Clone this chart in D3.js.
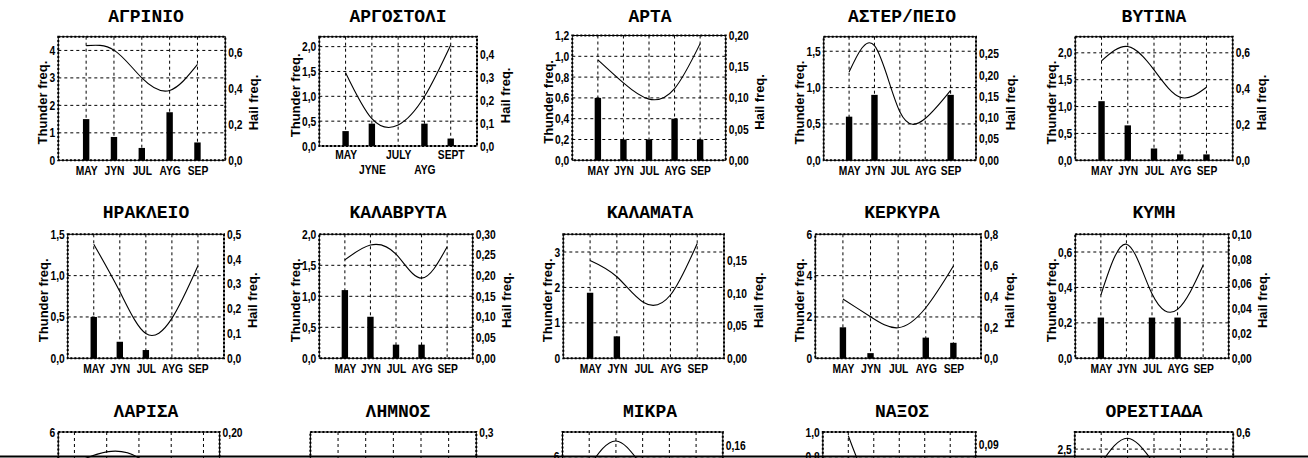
<!DOCTYPE html>
<html><head><meta charset="utf-8">
<script src="https://cdn.jsdelivr.net/npm/d3@7"></script>
<style>
body{margin:0;background:#fff;}
svg{display:block;}
.ttl{font-family:"Liberation Mono","Courier New",monospace;font-weight:bold;font-size:18px;}
.axt{font-family:"Liberation Sans",Arial,sans-serif;font-weight:bold;font-size:13px;}
</style></head><body>
<svg id="c" width="1308" height="458"></svg>
<script>
// ---------- data ----------
const months = ["MAY","JYN","JUL","AYG","SEP"];
const monthsArgostoli = ["MAY","JYNE","JULY","AYG","SEPT"];
const stations = ["ΑΓΡΙΝΙΟ","ΑΡΓΟΣΤΟΛΙ","ΑΡΤΑ","ΑΣΤΕΡ/ΠΕΙΟ","ΒΥΤΙΝΑ",
  "ΗΡΑΚΛΕΙΟ","ΚΑΛΑΒΡΥΤΑ","ΚΑΛΑΜΑΤΑ","ΚΕΡΚΥΡΑ","ΚΥΜΗ",
  "ΛΑΡΙΣΑ","ΛΗΜΝΟΣ","ΜΙΚΡΑ","ΝΑΞΟΣ","ΟΡΕΣΤΙΑΔΑ"];
// thunder frequency (bars, left axis); null = no bar / not visible
const thunderFreq = [
  [1.5,0.85,0.45,1.75,0.65],
  [0.3,0.45,null,0.45,0.15],
  [0.6,0.2,0.2,0.4,0.2],
  [0.6,0.9,null,null,0.9],
  [1.1,0.65,0.22,0.11,0.11],
  [0.5,0.2,0.1,null,null],
  [1.1,0.67,0.22,0.22,null],
  [1.85,0.62,null,null,null],
  [1.5,0.25,null,1.0,0.75],
  [0.23,null,0.23,0.23,null],
  [null,null,null,null,null],
  [null,null,null,null,null],
  [null,null,null,null,null],
  [null,null,null,null,null],
  [null,null,null,null,null]
];
// hail frequency (curve, right axis)
const hailFreq = [
  [0.64,0.615,0.46,0.39,0.535],
  [0.322,0.12,0.092,0.217,0.444],
  [0.161,0.124,0.098,0.115,0.187],
  [0.207,0.269,0.114,0.098,0.164],
  [0.555,0.635,0.505,0.352,0.408],
  [0.46,0.269,0.10,0.161,0.373],
  [0.238,0.274,0.252,0.194,0.27],
  [0.15,0.125,0.0855,0.097,0.176],
  [0.383,0.268,0.197,0.326,0.595],
  [0.051,0.092,0.052,0.0395,0.075],
  [0.150,0.168,0.158,0.12,0.13],
  [0.15,0.12,0.10,0.12,0.15],
  [0.13,0.167,0.13,0.10,0.12],
  [0.097,0.05,0.04,0.05,0.06],
  [0.45,0.57,0.45,0.35,0.40]
];
const leftTickLabels = [
  ["0","1","2","3","4"],
  ["0,0","0,5","1,0","1,5","2,0"],
  ["0,0","0,2","0,4","0,6","0,8","1,0","1,2"],
  ["0,0","0,5","1,0","1,5"],
  ["0,0","0,5","1,0","1,5","2,0"],
  ["0,0","0,5","1,0","1,5"],
  ["0,0","0,5","1,0","1,5","2,0"],
  ["0","1","2","3"],
  ["0","2","4","6"],
  ["0,0","0,2","0,4","0,6"],
  ["6"],
  [],
  ["6"],
  ["0,8","1,0"],
  ["2,5"]
];
const rightTickLabels = [
  ["0,0","0,2","0,4","0,6"],
  ["0,0","0,1","0,2","0,3","0,4"],
  ["0,00","0,05","0,10","0,15","0,20"],
  ["0,00","0,05","0,10","0,15","0,20","0,25"],
  ["0,0","0,2","0,4","0,6"],
  ["0,0","0,1","0,2","0,3","0,4","0,5"],
  ["0,00","0,05","0,10","0,15","0,20","0,25","0,30"],
  ["0,00","0,05","0,10","0,15"],
  ["0,0","0,2","0,4","0,6","0,8"],
  ["0,00","0,02","0,04","0,06","0,08","0,10"],
  ["0,20"],
  ["0,3"],
  ["0,16"],
  ["0,09"],
  ["0,6"]
];
const leftMax  = [4.5,2.2,1.2,1.7,2.3,1.5,2.0,3.5,6,0.7, 6,1,7.5,1.0,2.9];
const rightMax = [0.69,0.48,0.20,0.29,0.69,0.5,0.30,0.19,0.8,0.10, 0.20,0.3,0.18,0.10,0.6];

// ---------- layout (pixels) ----------
const boxes = [
  [58.3,225.3,36.7,160.3],[319.3,477,36.7,146],[572.3,725.7,35.5,160.3],[823.7,976,36.7,160.3],[1075.3,1232.7,36.7,160.3],
  [67.7,224,234.3,358.3],[319.3,472.7,234.3,358.3],[563.3,724,234.3,358.3],[815.3,981,234.3,358.3],[1075.3,1228.7,234.3,358.3],
  [58.3,219.6,432,556],[310.4,476.3,432,556],[562.5,722.8,432,556],[822.8,975.7,432,556],[1074.8,1233.2,432,556]
];
const xPad = [1,1,1,1,1, 1,1,1,1,1, 0.5,1,1,1,1];
const titleBase = [21.5, 217.5, 417];
const tickFont = '"Liberation Sans",Arial,sans-serif';
const narrow = 0.82;
const num = s => parseFloat(s.replace(",", "."));

const svg = d3.select("#c");
const squeeze = sel => sel.each(function(){
  const L = this.getComputedTextLength();
  if (L > 0) { this.setAttribute("textLength", (L*narrow).toFixed(2)); this.setAttribute("lengthAdjust","spacingAndGlyphs"); }
});

stations.forEach((name, k) => {
  const [x0,x1,y0,y1] = boxes[k];
  const col = k % 5, row = Math.floor(k / 5);
  const g = svg.append("g");
  const x = d3.scaleLinear().domain([1 - xPad[k], 5 + xPad[k]]).range([x0, x1]);
  const yL = d3.scaleLinear().domain([0, leftMax[k]]).range([y1, y0]);
  const yR = d3.scaleLinear().domain([0, rightMax[k]]).range([y1, y0]);

  g.append("text").attr("class","ttl").attr("x",146 + 252*col).attr("y",titleBase[row])
    .attr("text-anchor","middle").text(name);

  const lv = leftTickLabels[k].map(num);
  // horizontal grid
  g.append("g").selectAll("line").data(lv.filter(v => v > 0 && v < leftMax[k] - 1e-9)).join("line")
    .attr("x1",x0).attr("x2",x1).attr("y1",d=>yL(d)).attr("y2",d=>yL(d))
    .attr("stroke","#000").attr("stroke-width",1).attr("stroke-dasharray","3,3");
  // vertical grid
  g.append("g").selectAll("line").data(d3.range(1,6)).join("line")
    .attr("x1",d=>x(d)).attr("x2",d=>x(d)).attr("y1",y0).attr("y2",y1)
    .attr("stroke","#000").attr("stroke-width",1).attr("stroke-dasharray","3,3");
  // bars
  g.append("g").selectAll("rect").data(thunderFreq[k].map((v,i)=>({v,i})).filter(d=>d.v!=null)).join("rect")
    .attr("x",d=>x(d.i+1)-3.2).attr("width",6.4)
    .attr("y",d=>yL(d.v)).attr("height",d=>yL(0)-yL(d.v)).attr("fill","#000");
  // hail curve
  const line = d3.line().x((d,i)=>x(i+1)).y(d=>yR(d)).curve(d3.curveNatural);
  g.append("path").attr("d",line(hailFreq[k])).attr("fill","none").attr("stroke","#000").attr("stroke-width",1.1);
  // box: thin solid frame with a dotted heavy overlay
  g.append("rect").attr("x",x0).attr("y",y0).attr("width",x1-x0).attr("height",y1-y0)
    .attr("fill","none").attr("stroke","#000").attr("stroke-width",1);
  g.append("rect").attr("x",x0).attr("y",y0).attr("width",x1-x0).attr("height",y1-y0)
    .attr("fill","none").attr("stroke","#000").attr("stroke-width",2).attr("stroke-dasharray","2,2");

  // axes
  const aL = g.append("g").attr("transform",`translate(${x0},0)`)
    .call(d3.axisLeft(yL).tickValues(lv).tickFormat((d,i)=>leftTickLabels[k][i]).tickSize(0).tickPadding(3));
  const rv = rightTickLabels[k].map(num);
  const aR = g.append("g").attr("transform",`translate(${x1},0)`)
    .call(d3.axisRight(yR).tickValues(rv).tickFormat((d,i)=>rightTickLabels[k][i]).tickSize(0).tickPadding(3));
  const axes = [aL, aR];
  let aB = null;
  if (row < 2) {
    const labs = k === 1 ? monthsArgostoli : months;
    aB = g.append("g").attr("transform",`translate(0,${y1})`)
      .call(d3.axisBottom(x).tickValues(d3.range(1,6)).tickFormat(d=>labs[d-1]).tickSize(0).tickPadding(5.5));
    axes.push(aB);
  }
  axes.forEach(a => {
    a.select(".domain").remove();
    a.attr("font-family",null).attr("font-size",null);
    a.selectAll("text").attr("font-family",tickFont).attr("font-weight","bold").attr("font-size",12.5).attr("fill","#000");
    squeeze(a.selectAll("text"));
  });
  if (k === 1) {
    aB.selectAll(".tick text").attr("dy",(d)=> d % 2 === 1 ? "0.6em" : "1.8em");
  }

  if (row < 2) {
    let lw = 0; aL.selectAll("text").each(function(){ lw = Math.max(lw, this.getComputedTextLength()); });
    let rw = 0; aR.selectAll("text").each(function(){ rw = Math.max(rw, this.getComputedTextLength()); });
    const cy = (y0 + y1) / 2 + 4;
    const tx = x0 - 3 - lw - 2.5;
    g.append("text").attr("class","axt").attr("transform",`translate(${tx},${cy}) rotate(-90)`)
      .attr("text-anchor","middle").text("Thunder freq.");
    const hx = x1 + 3 + rw + 6.5 + 9.3;
    g.append("text").attr("class","axt").attr("transform",`translate(${hx},${cy}) rotate(-90)`)
      .attr("text-anchor","middle").text("Hail freq.");
  }
});
// bottom cut line
svg.append("line").attr("x1",0).attr("x2",1308).attr("y1",456.5).attr("y2",456.5).attr("stroke","#000").attr("stroke-width",2);
</script></body></html>
